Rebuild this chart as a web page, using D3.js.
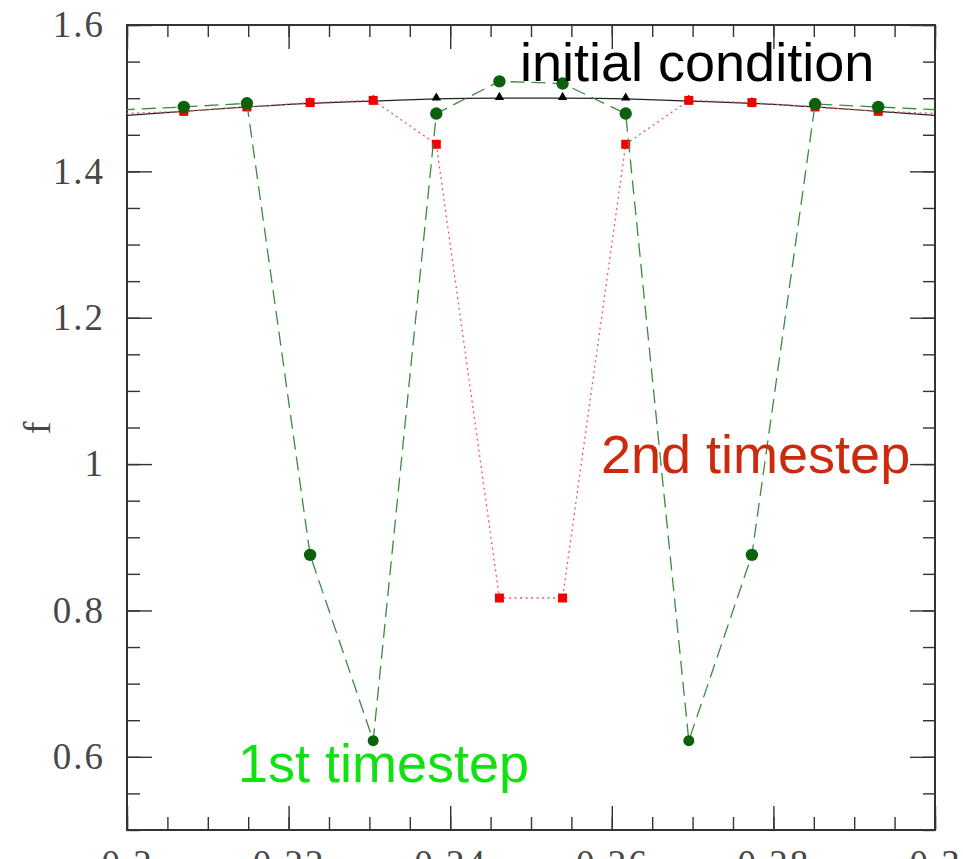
<!DOCTYPE html>
<html>
<head>
<meta charset="utf-8">
<script src="https://cdn.jsdelivr.net/npm/d3@7"></script>
<style>
  html, body { margin: 0; padding: 0; background: #fff; }
  svg { display: block; }
</style>
</head>
<body>
<svg id="chart" width="963" height="859"></svg>
<script>
// ---- data ----
const xValues = [0.19922, 0.20703, 0.21484, 0.22266, 0.23047, 0.23828, 0.24609,
                 0.25391, 0.26172, 0.26953, 0.27734, 0.28516, 0.29297, 0.30078];
const initialValues = [1.476, 1.482, 1.488, 1.493, 1.496, 1.499, 1.500,
                       1.500, 1.499, 1.496, 1.493, 1.488, 1.482, 1.476];
const secondStepValues = [1.479, 1.482, 1.488, 1.494, 1.497, 1.437, 0.817,
                          0.817, 1.437, 1.497, 1.494, 1.488, 1.482, 1.479];
const firstStepValues = [1.484, 1.488, 1.493, 0.876, 0.622, 1.479, 1.523,
                         1.520, 1.479, 0.622, 0.876, 1.492, 1.488, 1.484];
const xMajorTicks = [0.2, 0.22, 0.24, 0.26, 0.28, 0.3];
const xTickLabels = ["0.2", "0.22", "0.24", "0.26", "0.28", "0.3"];
const yMajorTicks = [0.6, 0.8, 1.0, 1.2, 1.4, 1.6];
const yTickLabels = ["0.6", "0.8", "1", "1.2", "1.4", "1.6"];
const xMinorTicks = d3.range(0, 21).map(i => 0.2 + i * 0.005);
const yMinorTicks = d3.range(0, 23).map(i => 0.5 + i * 0.05);
const labels = { y: "f", initial: "initial condition", first: "1st timestep", second: "2nd timestep" };

// ---- layout ----
const svg = d3.select("#chart");
const L = 127, T = 25, W = 808, H = 805;
const x = d3.scaleLinear().domain([0.2, 0.3]).range([L, L + W]);
const y = d3.scaleLinear().domain([0.5, 1.6]).range([T + H, T]);
const axisColor = "#333";
const tickFont = "'Liberation Serif', 'DejaVu Serif', serif";

svg.append("defs").append("clipPath").attr("id", "plotclip")
  .append("rect").attr("x", L).attr("y", T).attr("width", W).attr("height", H);

function styleAxis(g) {
  g.select(".domain").remove();
  g.selectAll(".tick line").attr("stroke", axisColor).attr("stroke-width", 1.4);
  g.selectAll(".tick text").attr("fill", "#474747")
    .style("font-family", tickFont).style("font-size", "37px")
    .style("letter-spacing", "2px");
}
const xFmt = d => xTickLabels[xMajorTicks.findIndex(v => Math.abs(v - d) < 1e-9)];
const yFmt = d => yTickLabels[yMajorTicks.findIndex(v => Math.abs(v - d) < 1e-9)];

// minor ticks (all four sides)
svg.append("g").attr("transform", `translate(0,${T + H})`)
  .call(d3.axisBottom(x).tickValues(xMinorTicks).tickSizeInner(-13).tickSizeOuter(0).tickFormat(""))
  .call(styleAxis);
svg.append("g").attr("transform", `translate(0,${T})`)
  .call(d3.axisTop(x).tickValues(xMinorTicks).tickSizeInner(-12).tickSizeOuter(0).tickFormat(""))
  .call(styleAxis);
svg.append("g").attr("transform", `translate(${L},0)`)
  .call(d3.axisLeft(y).tickValues(yMinorTicks).tickSizeInner(-13).tickSizeOuter(0).tickFormat(""))
  .call(styleAxis);
svg.append("g").attr("transform", `translate(${L + W},0)`)
  .call(d3.axisRight(y).tickValues(yMinorTicks).tickSizeInner(-12).tickSizeOuter(0).tickFormat(""))
  .call(styleAxis);

// major ticks with labels
svg.append("g").attr("transform", `translate(0,${T + H})`)
  .call(d3.axisBottom(x).tickValues(xMajorTicks).tickSizeInner(-24).tickSizeOuter(0).tickPadding(20).tickFormat(xFmt))
  .call(styleAxis);
svg.append("g").attr("transform", `translate(0,${T})`)
  .call(d3.axisTop(x).tickValues(xMajorTicks).tickSizeInner(-24).tickSizeOuter(0).tickFormat(""))
  .call(styleAxis);
svg.append("g").attr("transform", `translate(${L},0)`)
  .call(d3.axisLeft(y).tickValues(yMajorTicks).tickSizeInner(-25).tickSizeOuter(0).tickPadding(22).tickFormat(yFmt))
  .call(styleAxis);
svg.append("g").attr("transform", `translate(${L + W},0)`)
  .call(d3.axisRight(y).tickValues(yMajorTicks).tickSizeInner(-25).tickSizeOuter(0).tickFormat(""))
  .call(styleAxis);

// frame
svg.append("rect").attr("x", L).attr("y", T).attr("width", W).attr("height", H)
  .attr("fill", "none").attr("stroke", axisColor).attr("stroke-width", 2);

// y label
svg.append("text").attr("transform", "translate(50,428) rotate(-90)")
  .attr("text-anchor", "middle").attr("fill", "#474747")
  .style("font-family", tickFont).style("font-size", "38px").text(labels.y);

// ---- series ----
const plot = svg.append("g").attr("clip-path", "url(#plotclip)");
const pts = vals => xValues.map((xv, i) => [xv, vals[i]]);
const lineGen = d3.line().x(d => x(d[0])).y(d => y(d[1]));

// initial condition: smooth solid black curve + triangles
plot.append("path").datum(pts(initialValues))
  .attr("d", lineGen.curve(d3.curveNatural))
  .attr("fill", "none").attr("stroke", "#222").attr("stroke-width", 1.2);
plot.selectAll(".tri").data(pts(initialValues)).join("path")
  .attr("transform", d => `translate(${x(d[0])},${y(d[1]) - 1})`)
  .attr("d", d3.symbol(d3.symbolTriangle, 38)).attr("fill", "#000");

// 2nd timestep: red dotted + squares
plot.append("path").datum(pts(secondStepValues))
  .attr("d", d3.line().x(d => x(d[0])).y(d => y(d[1])))
  .attr("fill", "none").attr("stroke", "#ee5a60").attr("stroke-width", 1.3)
  .attr("stroke-dasharray", "2,3.5");
plot.selectAll(".sq").data(pts(secondStepValues)).join("path")
  .attr("transform", d => `translate(${x(d[0])},${y(d[1])})`)
  .attr("d", d3.symbol(d3.symbolSquare, 81)).attr("fill", "#f20000");

// 1st timestep: green dashed + circles
plot.append("path").datum(pts(firstStepValues))
  .attr("d", d3.line().x(d => x(d[0])).y(d => y(d[1])))
  .attr("fill", "none").attr("stroke", "#3d8a3d").attr("stroke-width", 1.3)
  .attr("stroke-dasharray", "14,7");
plot.selectAll(".circ").data(pts(firstStepValues)).join("circle")
  .attr("cx", d => x(d[0])).attr("cy", d => y(d[1]))
  .attr("r", d => d[1] < 0.7 ? 5.5 : 6.2)
  .attr("fill", "#0b620b");

// ---- annotations ----
const annFont = "'Liberation Sans', Arial, Helvetica, sans-serif";
svg.append("text").attr("x", 520).attr("y", 81).attr("fill", "#000")
  .style("font-family", annFont).style("font-size", "54px").text(labels.initial);
svg.append("text").attr("x", 601).attr("y", 473).attr("fill", "#cc2a0c")
  .style("font-family", annFont).style("font-size", "54px").text(labels.second);
svg.append("text").attr("x", 238).attr("y", 782).attr("fill", "#11e011")
  .style("font-family", annFont).style("font-size", "54px").text(labels.first);
</script>
</body>
</html>
